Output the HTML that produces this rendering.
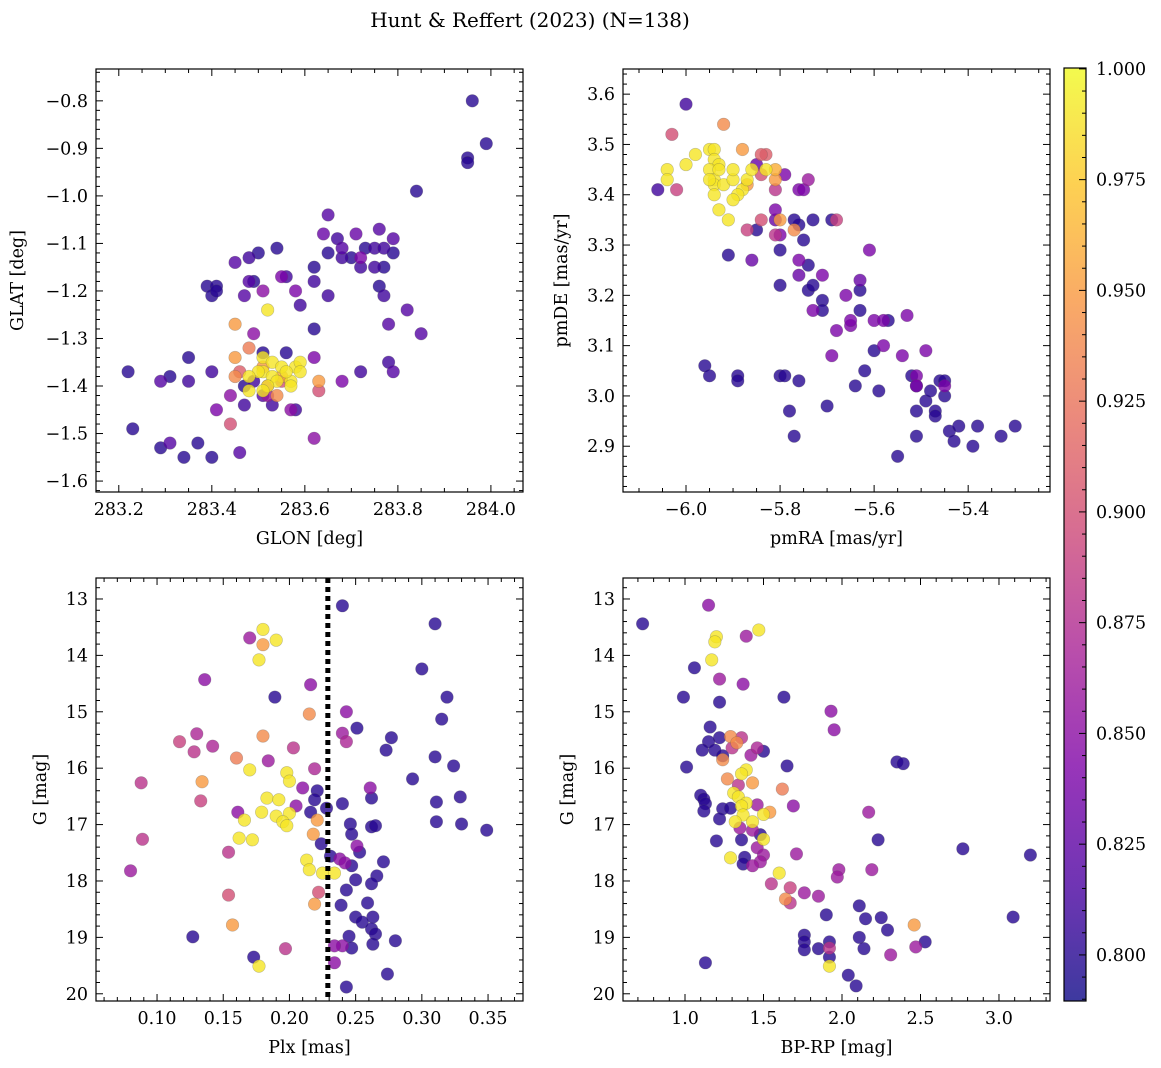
<!DOCTYPE html>
<html><head><meta charset="utf-8"><style>
html,body{margin:0;padding:0;background:#fff}
svg{display:block;font-family:"DejaVu Serif","Liberation Serif",serif}
</style></head><body>
<svg id="fig" width="1161" height="1068" viewBox="0 0 1161 1068" xmlns="http://www.w3.org/2000/svg">
<defs><linearGradient id="plasma" x1="0" y1="1" x2="0" y2="0">
<stop offset="0" stop-color="#0d0887"/><stop offset="0.125" stop-color="#4c02a1"/><stop offset="0.25" stop-color="#7e03a8"/><stop offset="0.375" stop-color="#a82296"/><stop offset="0.5" stop-color="#cc4778"/><stop offset="0.625" stop-color="#e66c5c"/><stop offset="0.75" stop-color="#f89540"/><stop offset="0.875" stop-color="#fdc527"/><stop offset="1" stop-color="#f0f921"/>
</linearGradient></defs>
<text x="530" y="27" font-size="20" text-anchor="middle">Hunt &amp; Reffert (2023) (N=138)</text>
</svg>
<script>
// Panel 1: GLON vs GLAT
const p1x=[283.96,283.99,283.95,283.95,283.84,283.65,283.76,283.71,283.64,283.79,283.54,283.67,283.68,283.73,283.75,283.77,283.79,283.65,283.68,283.50,283.45,283.48,283.72,283.70,283.77,283.75,283.72,283.62,283.55,283.56,283.39,283.41,283.40,283.41,283.48,283.51,283.58,283.62,283.65,283.76,283.77,283.82,283.78,283.49,283.47,283.52,283.59,283.45,283.62,283.49,283.85,283.78,283.79,283.72,283.45,283.35,283.48,283.51,283.56,283.62,283.51,283.53,283.55,283.58,283.59,283.51,283.53,283.54,283.52,283.50,283.57,283.59,283.56,283.48,283.48,283.51,283.57,283.51,283.55,283.63,283.45,283.55,283.52,283.46,283.40,283.22,283.29,283.31,283.35,283.68,283.47,283.49,283.51,283.54,283.41,283.47,283.44,283.52,283.53,283.57,283.58,283.63,283.44,283.29,283.34,283.31,283.40,283.37,283.46,283.62,283.23];
const p1y=[-0.80,-0.89,-0.92,-0.93,-0.99,-1.04,-1.07,-1.08,-1.08,-1.09,-1.11,-1.09,-1.11,-1.11,-1.11,-1.11,-1.12,-1.12,-1.13,-1.12,-1.14,-1.13,-1.13,-1.13,-1.15,-1.15,-1.15,-1.15,-1.17,-1.17,-1.19,-1.19,-1.21,-1.20,-1.18,-1.20,-1.20,-1.18,-1.21,-1.19,-1.21,-1.24,-1.27,-1.18,-1.21,-1.24,-1.23,-1.27,-1.28,-1.29,-1.29,-1.35,-1.37,-1.37,-1.34,-1.34,-1.32,-1.33,-1.33,-1.34,-1.34,-1.35,-1.36,-1.36,-1.35,-1.37,-1.38,-1.39,-1.40,-1.37,-1.39,-1.37,-1.37,-1.38,-1.41,-1.41,-1.40,-1.36,-1.38,-1.39,-1.38,-1.39,-1.40,-1.37,-1.37,-1.37,-1.39,-1.38,-1.39,-1.39,-1.40,-1.39,-1.42,-1.42,-1.45,-1.44,-1.42,-1.42,-1.44,-1.45,-1.45,-1.41,-1.48,-1.53,-1.55,-1.52,-1.55,-1.52,-1.54,-1.51,-1.49];
const p1c=[.80,.80,.80,.80,.80,.82,.82,.83,.83,.82,.80,.81,.82,.80,.81,.81,.80,.80,.81,.80,.82,.81,.84,.80,.80,.81,.81,.80,.84,.81,.80,.80,.80,.80,.82,.85,.84,.81,.81,.80,.81,.82,.82,.80,.82,.99,.81,.95,.80,.85,.82,.81,.82,.81,.95,.80,.93,.80,.80,.84,.99,.99,.99,.99,.99,.99,.99,.99,.99,.99,.99,.99,.99,.99,.99,.99,.99,.95,.96,.95,.94,.90,.90,.91,.81,.80,.82,.80,.81,.84,.80,.81,.82,.94,.84,.81,.85,.86,.81,.85,.81,.90,.90,.80,.80,.82,.80,.80,.82,.85,.80];
// Panel 2: pmRA vs pmDE
const p2x=[-6.00,-6.03,-5.92,-6.06,-6.02,-6.04,-6.04,-6.00,-5.98,-5.95,-5.94,-5.94,-5.93,-5.95,-5.94,-5.94,-5.92,-5.90,-5.88,-5.87,-5.89,-5.90,-5.93,-5.91,-5.94,-5.95,-5.86,-5.83,-5.93,-5.90,-5.88,-5.87,-5.81,-5.81,-5.77,-5.80,-5.83,-5.84,-5.84,-5.87,-5.84,-5.74,-5.68,-5.81,-5.81,-5.85,-5.79,-5.76,-5.75,-5.81,-5.81,-5.86,-5.80,-5.76,-5.76,-5.73,-5.71,-5.68,-5.65,-5.61,-5.63,-5.69,-5.60,-5.58,-5.58,-5.54,-5.49,-5.51,-5.51,-5.53,-5.66,-5.65,-5.91,-5.85,-5.80,-5.76,-5.75,-5.73,-5.80,-5.74,-5.71,-5.71,-5.73,-5.74,-5.77,-5.69,-5.63,-5.63,-5.57,-5.60,-5.62,-5.59,-5.64,-5.55,-5.52,-5.51,-5.49,-5.51,-5.51,-5.47,-5.48,-5.46,-5.45,-5.47,-5.45,-5.44,-5.43,-5.42,-5.39,-5.38,-5.33,-5.30,-5.45,-5.96,-5.95,-5.89,-5.89,-5.80,-5.79,-5.76,-5.78,-5.77,-5.70];
const p2y=[3.58,3.52,3.54,3.41,3.41,3.45,3.43,3.46,3.48,3.49,3.49,3.47,3.46,3.45,3.43,3.42,3.42,3.43,3.41,3.43,3.40,3.39,3.37,3.35,3.40,3.43,3.45,3.45,3.45,3.45,3.49,3.42,3.45,3.43,3.33,3.35,3.48,3.44,3.48,3.33,3.35,3.43,3.35,3.32,3.41,3.46,3.44,3.41,3.41,3.37,3.35,3.27,3.32,3.27,3.24,3.17,3.24,3.13,3.14,3.29,3.23,3.08,3.15,3.15,3.10,3.08,3.09,3.04,3.02,3.16,3.20,3.15,3.28,3.33,3.29,3.34,3.31,3.35,3.22,3.21,3.19,3.17,3.22,3.26,3.35,3.35,3.17,3.21,3.15,3.09,3.05,3.01,3.02,2.88,3.04,3.02,2.99,2.92,2.97,2.97,3.01,3.03,3.03,2.96,3.00,2.93,2.91,2.94,2.90,2.94,2.92,2.94,3.02,3.06,3.04,3.04,3.03,3.04,3.04,3.03,2.97,2.92,2.98];
const p2c=[.81,.90,.94,.81,.89,.99,.99,.99,.99,.99,.99,.99,.99,.99,.99,.99,.99,.99,.99,.99,.99,.99,.99,.99,.99,.99,.99,.99,.99,.99,.95,.95,.96,.95,.94,.95,.91,.90,.91,.89,.90,.86,.89,.88,.88,.83,.84,.84,.84,.84,.83,.83,.84,.84,.83,.84,.84,.84,.84,.84,.83,.84,.84,.84,.84,.84,.84,.84,.84,.84,.84,.84,.80,.80,.80,.80,.80,.80,.80,.80,.80,.80,.80,.80,.80,.80,.80,.80,.80,.80,.80,.80,.80,.80,.80,.80,.80,.80,.80,.80,.80,.80,.80,.80,.80,.80,.80,.80,.80,.80,.80,.80,.84,.80,.80,.80,.80,.80,.80,.80,.80,.80,.80];
// Panel 3: Plx vs G
const p3x=[0.24,0.31,0.18,0.17,0.19,0.18,0.177,0.30,0.136,0.216,0.189,0.319,0.243,0.215,0.315,0.251,0.13,0.117,0.18,0.24,0.243,0.277,0.142,0.128,0.203,0.273,0.31,0.16,0.184,0.324,0.17,0.219,0.198,0.20,0.293,0.088,0.134,0.21,0.261,0.221,0.183,0.192,0.329,0.133,0.262,0.219,0.205,0.228,0.24,0.311,0.161,0.179,0.20,0.19,0.216,0.166,0.195,0.198,0.221,0.246,0.262,0.265,0.311,0.33,0.349,0.218,0.247,0.251,0.162,0.172,0.089,0.224,0.154,0.253,0.231,0.238,0.213,0.242,0.271,0.215,0.225,0.234,0.247,0.08,0.266,0.25,0.262,0.243,0.222,0.154,0.239,0.219,0.259,0.25,0.263,0.255,0.157,0.262,0.127,0.265,0.245,0.28,0.24,0.234,0.263,0.197,0.173,0.177,0.234,0.274,0.243,0.247];
const p3y=[13.12,13.44,13.54,13.69,13.73,13.81,14.08,14.24,14.43,14.52,14.74,14.74,15.0,15.04,15.13,15.29,15.39,15.53,15.43,15.38,15.53,15.46,15.61,15.71,15.64,15.68,15.8,15.82,15.87,15.96,16.03,16.01,16.08,16.23,16.19,16.26,16.24,16.35,16.35,16.4,16.53,16.56,16.51,16.58,16.53,16.56,16.67,16.71,16.63,16.6,16.78,16.78,16.8,16.85,16.78,16.92,16.95,17.02,16.92,16.99,17.04,17.02,16.95,16.99,17.1,17.17,17.17,17.38,17.24,17.27,17.26,17.34,17.49,17.49,17.56,17.61,17.63,17.68,17.66,17.8,17.86,17.86,17.73,17.82,17.91,17.98,18.05,18.16,18.2,18.25,18.43,18.41,18.39,18.64,18.64,18.73,18.78,18.85,18.99,18.94,18.98,19.06,19.15,19.15,19.12,19.2,19.35,19.51,19.45,19.65,19.88,19.19];
const p3c=[.80,.80,.99,.86,.99,.95,.99,.80,.85,.85,.80,.80,.85,.94,.80,.80,.87,.89,.94,.86,.87,.80,.87,.88,.88,.80,.80,.93,.86,.80,.99,.87,.99,.99,.80,.88,.95,.85,.85,.80,.99,.99,.80,.89,.80,.80,.85,.80,.80,.80,.85,.99,.99,.99,.80,.99,.99,.99,.95,.80,.80,.80,.80,.80,.80,.95,.80,.85,.99,.99,.88,.80,.88,.80,.80,.85,.99,.85,.80,.99,.99,.99,.80,.86,.80,.80,.80,.80,.90,.90,.80,.95,.80,.80,.80,.80,.95,.80,.80,.80,.80,.80,.85,.85,.80,.88,.80,.99,.85,.80,.80,.80];
// Panel 4: BP-RP vs G
const p4x=[0.73,1.15,1.2,1.19,1.39,1.47,1.17,1.06,1.22,1.37,0.99,1.63,1.93,1.95,1.22,1.16,1.22,1.15,1.29,1.33,1.36,1.3,1.19,1.11,1.5,1.24,1.46,1.42,1.01,1.24,1.39,1.65,2.35,2.39,1.36,1.27,1.34,1.43,1.62,1.1,1.31,1.34,1.12,1.13,1.39,1.46,1.69,1.12,1.24,1.29,1.36,1.37,1.54,1.5,2.17,1.22,1.32,1.43,1.35,1.43,1.48,1.36,1.2,1.5,2.23,1.46,2.77,3.2,1.29,1.38,1.5,1.71,1.48,1.37,1.43,2.19,1.6,1.98,1.97,1.55,1.67,1.64,1.67,1.76,1.85,2.11,1.9,2.15,2.25,3.09,2.46,2.29,1.76,1.76,1.92,2.11,1.92,1.85,1.76,2.14,2.53,2.47,2.31,1.92,1.92,1.13,2.04,2.09];
const p4y=[13.44,13.11,13.67,13.76,13.66,13.55,14.08,14.22,14.42,14.51,14.74,14.74,14.99,15.32,14.83,15.27,15.46,15.53,15.44,15.55,15.46,15.64,15.68,15.68,15.7,15.78,15.64,15.77,15.98,15.85,16.03,15.96,15.89,15.92,16.1,16.19,16.3,16.26,16.37,16.48,16.44,16.51,16.55,16.63,16.62,16.65,16.67,16.76,16.72,16.71,16.67,16.83,16.78,16.82,16.78,16.9,16.95,16.95,17.06,17.1,17.18,17.27,17.29,17.26,17.27,17.41,17.43,17.54,17.59,17.58,17.54,17.52,17.66,17.7,17.73,17.8,17.86,17.8,17.93,18.05,18.12,18.32,18.39,18.21,18.27,18.44,18.6,18.67,18.65,18.64,18.78,18.87,18.96,19.08,19.08,19.0,19.19,19.2,19.22,19.2,19.08,19.17,19.31,19.35,19.51,19.45,19.67,19.86];
const p4c=[.80,.85,.99,.99,.86,.99,.99,.80,.86,.85,.80,.80,.85,.85,.80,.80,.80,.80,.94,.94,.88,.88,.80,.80,.80,.80,.87,.86,.80,.94,.99,.80,.80,.80,.99,.94,.88,.95,.93,.80,.99,.99,.80,.80,.99,.86,.85,.80,.80,.80,.99,.99,.95,.99,.86,.80,.99,.99,.86,.86,.80,.80,.80,.99,.80,.86,.80,.80,.99,.80,.86,.86,.86,.80,.86,.86,.99,.86,.86,.88,.89,.94,.88,.86,.86,.80,.80,.80,.80,.80,.95,.80,.80,.80,.80,.80,.88,.80,.80,.80,.80,.86,.86,.80,.99,.80,.80,.80];
const vline=0.229;
const cbTicks=[0.800,0.825,0.850,0.875,0.900,0.925,0.950,0.975,1.000];

const NS="http://www.w3.org/2000/svg";
const svg=document.getElementById('fig');
const FS=17.5;
function el(tag,attrs,parent){const e=document.createElementNS(NS,tag);for(const k in attrs)e.setAttribute(k,attrs[k]);(parent||svg).appendChild(e);return e;}
const stops=[[0,[13,8,135]],[.125,[76,2,161]],[.25,[126,3,168]],[.375,[168,34,150]],[.5,[204,71,120]],[.625,[230,108,92]],[.75,[248,149,64]],[.875,[253,197,39]],[1,[240,249,33]]];
const cmin=0.7896,cmax=1.0002;
function cmap(v){let t=(v-cmin)/(cmax-cmin);t=Math.max(0,Math.min(1,t));
 for(let i=1;i<stops.length;i++){if(t<=stops[i][0]){const a=stops[i-1],b=stops[i];const f=(t-a[0])/(b[0]-a[0]);const c=a[1].map((x,j)=>Math.round(x+(b[1][j]-x)*f));return `rgb(${c})`;}}return 'rgb(240,249,33)';}
function fmt(v,d){let s=v.toFixed(d);if(v<0)s='\u2212'+s.slice(1);return s;}

function panel(o){
 const g=el('g',{});
 
 
 const X=v=>o.L+(v-o.xmin)/(o.xmax-o.xmin)*(o.R-o.L);
 const Y=o.yinv? v=>o.T+(v-o.ymin)/(o.ymax-o.ymin)*(o.B-o.T) : v=>o.B-(v-o.ymin)/(o.ymax-o.ymin)*(o.B-o.T);
 const pts=el('g',{},g);
 
 
 const idx=o.xs.map((_,i)=>i).sort((a,b)=>o.cs[a]-o.cs[b]);
 idx.forEach(i=>{const c=el('circle',{cx:X(o.xs[i]),cy:Y(o.ys[i]),r:6.3,fill:cmap(o.cs[i]),'fill-opacity':0.8,stroke:'#555','stroke-opacity':0.35,'stroke-width':0.6},pts);
  
  });
 if(o.vline!==undefined){const l=el('line',{x1:X(o.vline),x2:X(o.vline),y1:o.T,y2:o.B,stroke:'#000','stroke-width':5,'stroke-dasharray':'5 4'},g);
  
  }
 const fr=el('rect',{x:o.L,y:o.T,width:o.R-o.L,height:o.B-o.T,fill:'none',stroke:'#000','stroke-width':1.2},g);
 
 
 const tk=el('g',{stroke:'#000','stroke-width':1},g);
 const eps=1e-9;
 for(let v=Math.ceil(o.xmin/o.xmi-eps)*o.xmi;v<=o.xmax+eps;v+=o.xmi){const x=X(v);const maj=Math.abs(v/o.xma-Math.round(v/o.xma))<1e-6;const len=maj?7:4;
  el('line',{x1:x,x2:x,y1:o.B,y2:o.B-len},tk);el('line',{x1:x,x2:x,y1:o.T,y2:o.T+len},tk);
  if(maj){const t=el('text',{x:x,y:o.B+23,'font-size':FS,'text-anchor':'middle'},g);t.textContent=fmt(v,o.xd);
   
   }}
 for(let v=Math.ceil(o.ymin/o.ymi-eps)*o.ymi;v<=o.ymax+eps;v+=o.ymi){const y=Y(v);const maj=Math.abs(v/o.yma-Math.round(v/o.yma))<1e-6;const len=maj?7:4;
  el('line',{x1:o.L,x2:o.L+len,y1:y,y2:y},tk);el('line',{x1:o.R,x2:o.R-len,y1:y,y2:y},tk);
  if(maj){const t=el('text',{x:o.L-8,y:y+6,'font-size':FS,'text-anchor':'end'},g);t.textContent=fmt(v,o.yd);
   
   }}
 const xl=el('text',{x:(o.L+o.R)/2,y:o.B+52,'font-size':FS,'text-anchor':'middle'},g);xl.textContent=o.xlab;
 
 
 const yl=el('text',{x:0,y:0,'font-size':FS,'text-anchor':'middle',transform:`translate(${o.ylx},${(o.T+o.B)/2}) rotate(-90)`},g);yl.textContent=o.ylab;
 
 
}
panel({name:'glon-glat-panel',L:96,R:523,T:69,B:492,xmin:283.151,xmax:284.069,ymin:-1.623,ymax:-0.733,xma:0.2,xmi:0.05,yma:0.1,ymi:0.02,xd:1,yd:1,xs:p1x,ys:p1y,cs:p1c,xlab:'GLON [deg]',ylab:'GLAT [deg]',ylx:23});
panel({name:'pm-panel',L:623,R:1050,T:69,B:492,xmin:-6.134,xmax:-5.226,ymin:2.809,ymax:3.650,xma:0.2,xmi:0.05,yma:0.1,ymi:0.02,xd:1,yd:1,xs:p2x,ys:p2y,cs:p2c,xlab:'pmRA [mas/yr]',ylab:'pmDE [mas/yr]',ylx:567});
panel({name:'plx-g-panel',L:96,R:523,T:578,B:1001,xmin:0.0539,xmax:0.3764,ymin:12.628,ymax:20.128,yinv:true,xma:0.05,xmi:0.01,yma:1,ymi:0.2,xd:2,yd:0,xs:p3x,ys:p3y,cs:p3c,xlab:'Plx [mas]',ylab:'G [mag]',ylx:46,vline:vline});
panel({name:'cmd-panel',L:623,R:1050,T:578,B:1001,xmin:0.605,xmax:3.325,ymin:12.628,ymax:20.128,yinv:true,xma:0.5,xmi:0.1,yma:1,ymi:0.2,xd:1,yd:0,xs:p4x,ys:p4y,cs:p4c,xlab:'BP-RP [mag]',ylab:'G [mag]',ylx:573});

// colorbar
const cb=el('g',{});


const cL=1064,cR=1086,cT=68,cB=1001;
const CY=v=>cB-(v-cmin)/(cmax-cmin)*(cB-cT);
el('rect',{x:cL,y:cT,width:cR-cL,height:cB-cT,fill:'url(#plasma)','fill-opacity':0.8},cb);
el('rect',{x:cL,y:cT,width:cR-cL,height:cB-cT,fill:'none',stroke:'#000','stroke-width':1.2},cb);
for(let k=Math.ceil(cmin/0.005);k*0.005<=cmax+1e-9;k++){const v=k*0.005;const y=CY(v);const maj=(k%5===0);el('line',{x1:cR,x2:cR-(maj?7:4),y1:y,y2:y,stroke:'#000','stroke-width':1},cb);}
cbTicks.forEach(v=>{const t=el('text',{x:cR+10,y:CY(v)+6,'font-size':FS},cb);t.textContent=v.toFixed(3);
 
 });
</script>
</body></html>
